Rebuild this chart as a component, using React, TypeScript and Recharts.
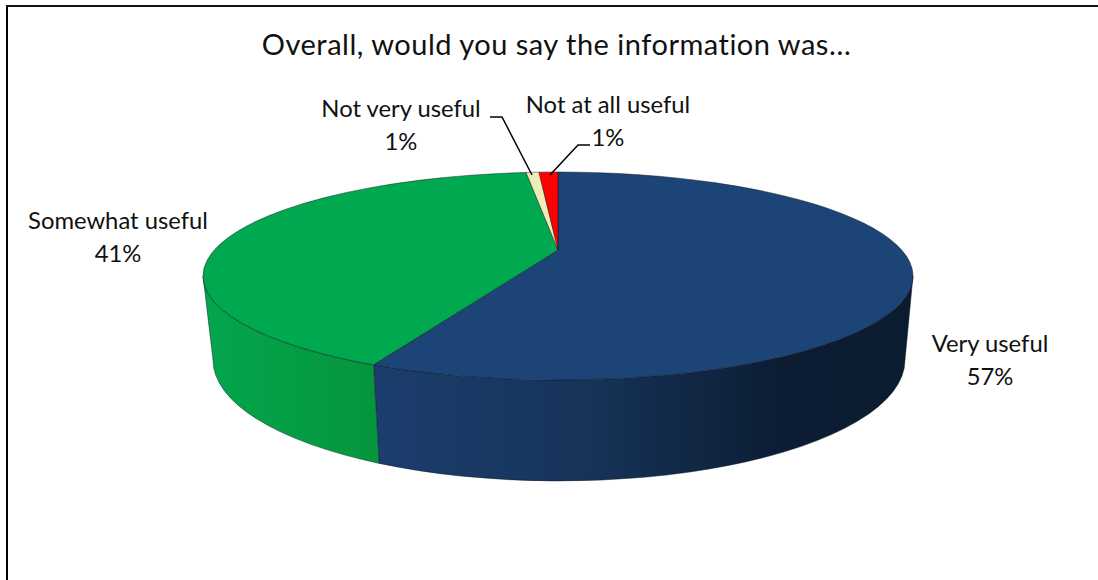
import React from 'react'
import { PieChart, Pie } from 'recharts'

const categories = ['Very useful', 'Somewhat useful', 'Not very useful', 'Not at all useful']
const shares = [56.8, 41.35, 0.75, 1.1]
const sliceColors = ['#1c4476', '#00a84f', '#f0ecb8', '#ff0000']
const wallGradients = ['wallBlue', 'wallGreen', '', '']

const data = categories.map((name, i) => ({ name, value: shares[i] }))

const FONT = 'Lato, sans-serif'

// Top face ellipse and the lower rim, as Excel's 3D view draws them
const top = { cx: 558, cy: 276, rx: 355, ry: 104 }
const low = { cx: 559, cy: 360, rx: 346, ry: 121 }

// label anchors and leader lines, by slice index
const labelPos = [
  { x: 990, y: 352, line: '' },
  { x: 118, y: 229, line: '' },
  { x: 401, y: 117, line: '490,117 502,117 532,175' },
  { x: 608, y: 113, line: '590,145 578,145 550,175' },
]

const RAD = Math.PI / 180

// circle angle -> parameter on the top ellipse (perspective moves the apex up)
const toParam = (deg: number) => {
  const u = Math.cos(deg * RAD)
  const v = -Math.sin(deg * RAD)
  const d = 1 - 0.25 * v
  const X = (344 * u) / d
  const Y = 250 + (97.5 * v) / d
  return Math.atan2((Y - top.cy) / top.ry, X / top.rx) / RAD
}

const onEllipse = (e: typeof top, t: number) => ({
  x: e.cx + e.rx * Math.cos(t * RAD),
  y: e.cy + e.ry * Math.sin(t * RAD),
})

const Slice = (props: any) => {
  const { startAngle, endAngle, index } = props
  let t1 = toParam(startAngle)
  let t2 = toParam(endAngle)
  if (t2 < t1) t2 += 360
  const p1 = onEllipse(top, t1)
  const p2 = onEllipse(top, t2)
  const large = t2 - t1 > 180 ? 1 : 0
  const edge = { stroke: '#0a1420', strokeWidth: 0.7, strokeOpacity: 0.65 }

  let wall = null
  const gradient = wallGradients[index]
  if (gradient) {
    const a = Math.max(t1, 0)
    const b = Math.min(t2, 180)
    const ta = onEllipse(top, a)
    const tb = onEllipse(top, b)
    const la = onEllipse(low, a)
    const lb = onEllipse(low, b)
    wall = (
      <path
        d={`M${ta.x},${ta.y} A${top.rx},${top.ry} 0 0 1 ${tb.x},${tb.y} L${lb.x},${lb.y} A${low.rx},${low.ry} 0 0 0 ${la.x},${la.y} Z`}
        fill={`url(#${gradient})`}
        {...edge}
      />
    )
  }
  return (
    <g>
      {wall}
      <path
        d={`M558,250 L${p1.x},${p1.y} A${top.rx},${top.ry} 0 ${large} 1 ${p2.x},${p2.y} Z`}
        fill={sliceColors[index]}
        {...edge}
      />
    </g>
  )
}

const SliceLabel = (props: any) => {
  const { index, name, value } = props
  const pos = labelPos[index]
  return (
    <g>
      {pos.line && <polyline points={pos.line} fill="none" stroke="#000" strokeWidth={1.5} />}
      <text x={pos.x} y={pos.y} textAnchor="middle" fontFamily={FONT} fontSize={23.8} fill="#111">
        {name}
      </text>
      <text x={pos.x} y={pos.y + 32.5} textAnchor="middle" fontFamily={FONT} fontSize={23.8} fill="#111">
        {Math.round(value)}%
      </text>
    </g>
  )
}

export default function App() {
  return (
    <div style={{ position: 'absolute', left: 0, top: 0, width: 1098, height: 580, background: '#fff' }}>
      <PieChart width={1098} height={580} margin={{ top: 0, right: 0, bottom: 0, left: 0 }}>
        <defs>
          <linearGradient id="wallBlue" gradientUnits="userSpaceOnUse" x1="375" y1="0" x2="914" y2="0">
            <stop offset="0" stopColor="#1c3e6e" />
            <stop offset="0.4" stopColor="#163358" />
            <stop offset="0.75" stopColor="#0c1d33" />
            <stop offset="1" stopColor="#0b1b30" />
          </linearGradient>
          <linearGradient id="wallGreen" gradientUnits="userSpaceOnUse" x1="204" y1="0" x2="378" y2="0">
            <stop offset="0" stopColor="#03a64d" />
            <stop offset="1" stopColor="#05953c" />
          </linearGradient>
        </defs>
        <line x1={7} y1={5} x2={7} y2={580} stroke="#000" strokeWidth={2} />
        <line x1={6} y1={6} x2={1098} y2={6} stroke="#111" strokeWidth={2} />
        <text x={556.5} y={55} textAnchor="middle" fontFamily={FONT} fontSize={29} letterSpacing={0.5} fill="#111">
          Overall, would you say the information was…
        </text>
        <Pie
          data={data}
          dataKey="value"
          nameKey="name"
          cx={558}
          cy={250}
          outerRadius={100}
          startAngle={90}
          endAngle={-270}
          paddingAngle={0}
          isAnimationActive={false}
          shape={Slice}
          label={SliceLabel}
          labelLine={false}
        />
      </PieChart>
    </div>
  )
}
